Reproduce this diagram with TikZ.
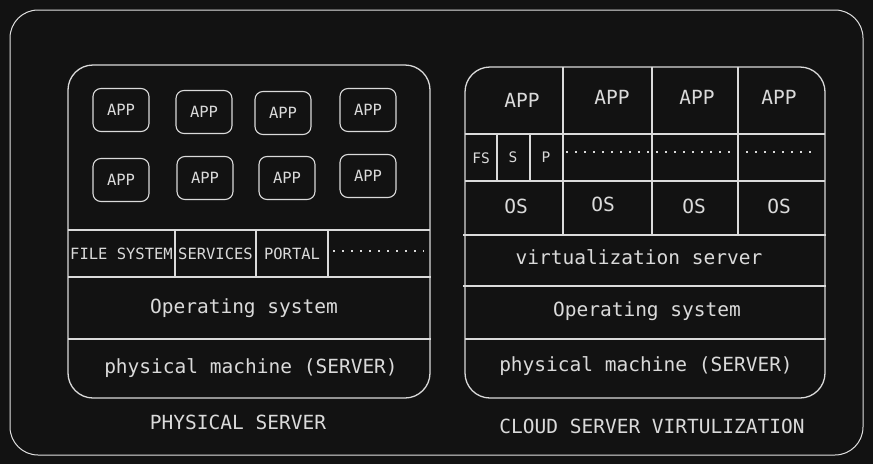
\documentclass[tikz,border=0pt]{standalone}
\usepackage{fontspec}
\setmonofont{DejaVu Sans Mono}
\definecolor{bg}{HTML}{121212}
\definecolor{ink}{HTML}{DADADA}

\begin{document}
\begin{tikzpicture}[x=1pt,y=-1pt]\tikzset{layer/.style = {draw=ink, line width=1.3pt},
	appbox/.style = {draw=ink, line width=1.1pt, rounded corners=8pt, minimum width=56pt, minimum height=43pt, text=ink, font=\ttfamily\fontsize{15.5}{15.5}\selectfont},
	biglabel/.style = {text=ink, font=\ttfamily\fontsize{19.5}{19.5}\selectfont},
	smalllabel/.style = {text=ink, font=\ttfamily\fontsize{15.5}{15.5}\selectfont},
	dotline/.style = {draw=ink, line width=1.5pt, dash pattern=on 1.5pt off 7.5pt}}

		\fill[bg] (0,0) rectangle (873,464);
		\useasboundingbox (0,0) rectangle (873,464);
		\draw[draw=ink!85, line width=1pt, rounded corners=28pt] (10,10) rectangle (863,455);

		% physical server
		\draw[layer, rounded corners=25pt] (68,65) rectangle (430,398);
		\draw[layer] (68,230) -- (430,230);
		\draw[layer] (68,277) -- (431,277);
		\draw[layer] (68,339) -- (431,339);
		\draw[layer] (175,230) -- (175,277);
		\draw[layer] (256,230) -- (256,277);
		\draw[layer] (328,230) -- (328,277);
		\draw[dotline] (333,251) -- (424,251);

		\node[appbox] (A_1) at (121,110) {APP};
		\node[appbox] (A_2) at (204,112) {APP};
		\node[appbox] (A_3) at (283,113) {APP};
		\node[appbox] (A_4) at (368,110) {APP};
		\node[appbox] (A_5) at (121,180) {APP};
		\node[appbox] (A_6) at (205,178) {APP};
		\node[appbox] (A_7) at (287,178) {APP};
		\node[appbox] (A_8) at (368,176) {APP};

		\node[smalllabel] (FileSys) at (121.5,254) {FILE SYSTEM};
		\node[smalllabel] (Services) at (215.5,254) {SERVICES};
		\node[smalllabel] (Portal) at (292,254) {PORTAL};
		\node[biglabel] (OS_L) at (244,308) {Operating system};
		\node[biglabel] (PM_L) at (251,368) {physical machine (SERVER)};
		\node[biglabel] (Title_L) at (238,422) {PHYSICAL SERVER};

		% cloud server virtualization
		\draw[layer, rounded corners=25pt] (465,67) rectangle (825,398);
		\draw[layer] (563,67) -- (563,235);
		\draw[layer] (652,67) -- (652,235);
		\draw[layer] (738,67) -- (738,235);
		\draw[layer] (465,134) -- (825,134);
		\draw[layer] (465,181) -- (825,181);
		\draw[layer] (463,235) -- (826,235);
		\draw[layer] (463,286) -- (826,286);
		\draw[layer] (465,339) -- (826,339);
		\draw[layer] (497,134) -- (497,181);
		\draw[layer] (530,134) -- (530,181);
		\draw[dotline] (566,152) -- (816,152);

		\node[biglabel] (V_1) at (522,100) {APP};
		\node[biglabel] (V_2) at (612,97) {APP};
		\node[biglabel] (V_3) at (697,97) {APP};
		\node[biglabel] (V_4) at (779,97) {APP};
		\node[smalllabel, font=\ttfamily\fontsize{14.5}{14.5}\selectfont] (FS) at (481,158) {FS};
		\node[smalllabel, font=\ttfamily\fontsize{14.5}{14.5}\selectfont] (S) at (513,157) {S};
		\node[smalllabel, font=\ttfamily\fontsize{14.5}{14.5}\selectfont] (P) at (546,157) {P};
		\node[biglabel] (G_1) at (516,206) {OS};
		\node[biglabel] (G_2) at (603,204) {OS};
		\node[biglabel] (G_3) at (694,206) {OS};
		\node[biglabel] (G_4) at (779,206) {OS};
		\node[biglabel] (Virt) at (639,257) {virtualization server};
		\node[biglabel] (OS_R) at (647,311) {Operating system};
		\node[biglabel] (PM_R) at (646,366) {physical machine (SERVER)};
		\node[biglabel] (Title_R) at (652,426) {CLOUD SERVER VIRTULIZATION};
	\end{tikzpicture}
\end{document}
